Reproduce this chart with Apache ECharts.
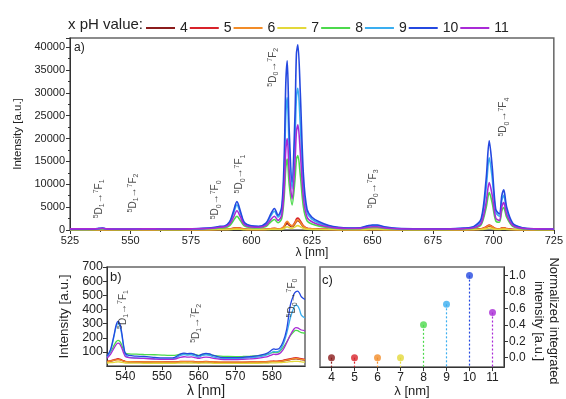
<!DOCTYPE html>
<html>
<head>
<meta charset="utf-8">
<title>Eu emission vs pH</title>
<script src="https://cdn.jsdelivr.net/npm/echarts@6.0.0/dist/echarts.min.js"></script>
<style>
  html, body { margin: 0; padding: 0; background: #fff; }
  #main { width: 566px; height: 399px; }
</style>
</head>
<body>
<div id="main"></div>
<script>
// pH values / series names
var phNames = ['4', '5', '6', '7', '8', '9', '10', '11'];
var colors = ['#8b1c1c', '#d8232a', '#f28c28', '#e3d83a', '#4cd94c', '#3aaef0', '#2448e0', '#a92ad6'];

// panel a) full spectrum, wavelength [nm]
var wlA = [525, 530, 535, 537, 538.5, 540, 545, 550, 555, 560,
    565, 570, 575, 580, 585, 587, 589, 591, 592.5, 594,
    595.5, 597, 600, 603, 606, 608, 609.5, 611, 612.5, 613.5,
    614.2, 614.8, 615.6, 616.8, 618, 618.6, 619.2, 620.2, 621.5, 623,
    625, 628, 632, 636, 640, 645, 648, 650, 652, 655,
    660, 670, 680, 688, 692, 695, 697, 698.3, 699.5, 701,
    702.5, 703.5, 704.3, 705.5, 708, 712, 718, 725];
var ph4A = [50,50,50,58,65, 50,45,45,50,50, 45,45,50,58,80, 105,120,175,300,400, 300,160,95,90,120, 220,280,200,280,640, 1200,1450,1050,720,1350, 1900,2050,1600,720,320, 220,145,95,65,55, 55,80,95,95,70, 50,45,45,55,80, 200,560,880,640,240, 200,360,400,240,95, 55,50,45];
var ph5A = [60,60,60,70,80, 60,55,55,60,60, 55,55,60,70,100, 130,150,220,380,500, 380,200,120,110,150, 280,350,250,350,800, 1500,1800,1300,900,1700, 2400,2600,2000,900,400, 280,180,120,80,70, 70,100,120,120,90, 60,55,55,70,100, 250,700,1100,800,300, 250,450,500,300,120, 70,60,55];
var ph6A = [55,55,55,65,72, 55,50,50,55,55, 50,50,55,65,90, 118,135,200,340,450, 340,180,110,100,135, 250,315,225,320,760, 1600,1900,1350,850,1500, 2050,2200,1700,780,350, 250,160,105,72,62, 62,90,108,108,80, 55,50,50,62,90, 220,620,980,710,270, 220,400,450,270,108, 62,55,50];
var ph7A = [25,25,25,28,32, 25,22,22,25,25, 22,22,25,28,40, 50,60,90,150,200, 150,80,50,45,60, 110,140,100,140,320, 600,720,520,360,680, 880,950,720,340,150, 110,70,48,32,28, 28,40,48,48,36, 25,22,22,28,40, 100,280,440,320,120, 100,180,200,120,48, 28,25,22];
var ph8A = [120,120,130,180,220, 150,130,130,150,150, 130,130,160,220,350, 450,500,950,2000,3000, 2000,900,500,450,750, 1800,2300,1600,2500,7000, 13500,15500,10000,5500,11000, 15500,16300,12000,5000,2000, 1300,850,500,300,250, 270,450,550,550,350, 180,130,130,220,400, 1200,4800,8200,6000,2000, 1700,4200,4900,2800,800, 250,140,120];
var ph9A = [120,120,150,300,400, 220,170,170,220,220, 170,170,220,300,520, 700,800,1600,3500,5500, 3600,1500,800,700,1300, 3100,4100,2800,4300,12000, 25000,29000,18000,9000,20000, 29000,31000,23000,9500,3800, 2400,1500,850,500,400, 450,800,950,950,600, 300,200,200,350,700, 2100,9000,15800,11500,3800, 3000,6500,7600,4300,1300, 450,220,180];
var ph10A = [150,150,200,350,450, 250,200,200,250,250, 200,200,250,350,600, 800,900,1800,4000,6200, 4000,1700,900,800,1500, 3500,4700,3200,5000,15000, 32000,37000,22000,10500,25000, 38500,40500,30000,12000,4500, 2800,1800,1000,600,450, 500,900,1100,1100,700, 350,250,250,400,800, 2500,11000,19500,14000,4500, 3500,7500,8800,5000,1500, 500,250,200];
var ph11A = [250,250,250,300,350, 250,220,220,250,250, 220,220,250,300,450, 600,700,1300,2700,4200, 2800,1200,650,600,1000, 2300,3000,2100,3200,9000, 17500,20000,13000,6800,15000, 21500,23000,17000,7000,2800, 1800,1150,650,400,330, 350,600,700,700,450, 280,230,230,300,500, 1500,6000,10400,7700,2600, 2100,5100,6000,3400,1000, 350,250,230];

// panel b) zoom 535-589 nm
var wlB = [535, 536, 537, 537.5, 538, 538.5, 539, 539.5, 540, 541,
    543, 545, 548, 550, 552, 553.5, 555, 556, 557, 558,
    559, 560, 561, 562, 563, 564, 566, 568, 570, 572,
    574, 576, 578, 579, 580, 580.5, 581, 582, 583, 584,
    585, 586, 586.5, 587, 587.5, 588, 589];
var ph4B = [30,35,42,46,48,46,41,35,31,29, 28,27,27,26,26,26,29,30,29,30, 28,27,28,29,28,27,25,25,25,25, 26,27,28,29,31,32,31,33,36,41, 46,50,52,50,48,45,42];
var ph5B = [33,38,46,50,52,50,45,38,34,32, 31,30,30,29,29,29,33,34,33,34, 32,30,32,33,32,30,28,28,28,28, 29,30,32,33,35,36,35,37,41,47, 53,58,60,58,55,52,48];
var ph6B = [32,36,42,44,45,44,40,35,32,31, 30,30,29,29,28,28,31,32,31,32, 30,29,30,31,30,29,28,28,28,28, 28,29,30,31,33,33,33,34,37,42, 47,52,54,53,50,47,44];
var ph7B = [22,24,27,29,30,29,27,24,22,21, 21,20,20,20,20,20,22,22,22,22, 21,20,21,22,21,20,19,19,19,19, 20,20,21,22,23,23,23,24,26,28, 31,33,34,33,32,30,28];
var ph8B = [70,100,150,172,182,175,150,115,92,86, 84,82,80,78,76,76,85,88,85,86, 82,76,82,85,82,76,70,68,67,68, 70,73,80,86,95,98,96,102,130,170, 215,245,252,250,243,236,232];
var ph9B = [60,110,220,280,300,285,225,140,80,62, 58,56,52,50,50,54,75,82,78,80, 72,62,75,80,76,65,54,52,52,54, 58,63,74,82,98,104,100,108,150,230, 340,415,430,425,400,360,340];
var ph10B = [70,120,230,290,315,300,240,150,90,75, 70,68,62,58,58,62,85,92,88,90, 82,72,85,90,86,75,62,60,60,62, 66,72,85,95,115,122,118,125,170,260, 430,510,525,530,515,490,470];
var ph11B = [55,85,130,152,162,155,130,95,68,60, 56,54,50,48,48,50,62,66,63,65, 60,54,60,64,61,55,48,46,46,48, 51,55,63,69,80,84,82,88,115,165, 220,262,272,270,262,255,250];

// panel c) normalized integrated intensity
var phC = [4, 5, 6, 7, 8, 9, 10, 11];
var normC = [0.0, 0.0, 0.0, 0.0, 0.40, 0.65, 1.0, 0.55];

// tick labels
var ticksBx = [540, 550, 560, 570, 580];
var ticksCx = [4, 5, 6, 7, 8, 9, 10, 11];
var ticksCy = [0, 0.2, 0.4, 0.6, 0.8, 1.0];

// transition annotations [wavelength, intensity]
var annoAText = ['{s|5}D{b|1}→{s|7}F{b|1}', '{s|5}D{b|1}→{s|7}F{b|2}', '{s|5}D{b|0}→{s|7}F{b|0}', '{s|5}D{b|0}→{s|7}F{b|1}', '{s|5}D{b|0}→{s|7}F{b|2}', '{s|5}D{b|0}→{s|7}F{b|3}', '{s|5}D{b|0}→{s|7}F{b|4}'];
var annoAX = [537, 551, 585.2, 595.1, 609, 650.2, 704.3];
var annoAY = [6800, 8100, 6600, 12250, 35600, 9000, 24700];
var annoBText = ['{s|5}D{b|1}→{s|7}F{b|1}', '{s|5}D{b|1}→{s|7}F{b|2}', '{s|5}D{b|0}→{s|7}F{b|0}'];
var annoBX = [539.3, 559.4, 585.4];
var annoBY = [400, 302, 481];

var FONT = '"Liberation Sans", Arial, sans-serif';

function zip(xs, ys) {
    return xs.map(function(x, i) { return [x, ys[i]]; });
}

var seriesA = [ph4A, ph5A, ph6A, ph7A, ph8A, ph9A, ph10A, ph11A];
var seriesB = [ph4B, ph5B, ph6B, ph7B, ph8B, ph9B, ph10B, ph11B];

var series = [];
seriesA.forEach(function(ys, i) {
    series.push({
        name: phNames[i], type: 'line', xAxisIndex: 0, yAxisIndex: 0,
        data: zip(wlA, ys), showSymbol: false, smooth: 0.3,
        lineStyle: { width: 1.6, color: colors[i] }, itemStyle: { color: colors[i] }
    });
});
seriesB.forEach(function(ys, i) {
    series.push({
        name: phNames[i], type: 'line', xAxisIndex: 1, yAxisIndex: 1,
        data: zip(wlB, ys), showSymbol: false, smooth: 0.3,
        lineStyle: { width: 1.3, color: colors[i] }, itemStyle: { color: colors[i] }
    });
});

var richAnno = {
    s: { fontSize: 7, verticalAlign: 'top', lineHeight: 13, fontFamily: FONT, color: '#222' },
    b: { fontSize: 7, verticalAlign: 'bottom', lineHeight: 13, fontFamily: FONT, color: '#222' }
};
function annoSeries(xi, xs, ys, texts, size) {
    return {
        type: 'scatter', xAxisIndex: xi, yAxisIndex: xi, symbolSize: 0, silent: true, z: 10,
        data: xs.map(function(x, i) { return { name: texts[i], value: [x, ys[i]] }; }),
        label: {
            show: true, position: 'inside', rotate: 90, formatter: '{b}',
            fontSize: size, lineHeight: 13, color: '#222', fontFamily: FONT, rich: richAnno
        }
    };
}
series.push(annoSeries(0, annoAX, annoAY, annoAText, 10));
series.push(annoSeries(1, annoBX, annoBY, annoBText, 10));

// panel c stems (dotted drop lines) and points
series.push({
    type: 'custom', xAxisIndex: 2, yAxisIndex: 2, silent: true,
    data: zip(phC, normC),
    renderItem: function(params, api) {
        var p = api.coord([api.value(0), api.value(1)]);
        var bottom = params.coordSys.y + params.coordSys.height;
        return {
            type: 'line',
            shape: { x1: p[0], y1: p[1], x2: p[0], y2: bottom },
            style: { stroke: colors[params.dataIndex], lineWidth: 1.2, lineDash: [2, 2] }
        };
    }
});
series.push({
    name: 'norm', type: 'scatter', xAxisIndex: 2, yAxisIndex: 2, symbolSize: 7, z: 5,
    data: phC.map(function(x, i) {
        return { value: [x, normC[i]], itemStyle: { color: colors[i] } };
    })
});

var axisCommon = {
    axisLine: { onZero: false, lineStyle: { color: '#333', width: 1 } },
    axisTick: { lineStyle: { color: '#333' }, length: 4 },
    splitLine: { show: false },
    axisLabel: { color: '#222', fontFamily: FONT },
    nameTextStyle: { color: '#222', fontFamily: FONT }
};
function ax(o) {
    var r = JSON.parse(JSON.stringify(axisCommon));
    for (var k in o) {
        if (typeof o[k] === 'object' && !Array.isArray(o[k]) && r[k]) {
            for (var kk in o[k]) r[k][kk] = o[k][kk];
        } else {
            r[k] = o[k];
        }
    }
    return r;
}

var gridStyle = { show: true, borderColor: '#666', borderWidth: 1.5, backgroundColor: 'transparent' };

var option = {
    backgroundColor: '#fff',
    animation: false,
    textStyle: { fontFamily: FONT },
    legend: {
        data: phNames, left: 141, top: 16, icon: 'rect',
        itemWidth: 29, itemHeight: 2, itemGap: 2,
        textStyle: { fontSize: 14, color: '#222', fontFamily: FONT }
    },
    graphic: [
        { type: 'text', left: 68, top: 17, style: { text: 'x pH value:', font: '15px ' + FONT, fill: '#222' } },
        { type: 'text', left: 74, top: 42, style: { text: 'a)', font: '12px ' + FONT, fill: '#222' } },
        { type: 'text', left: 110, top: 271, style: { text: 'b)', font: '13px ' + FONT, fill: '#222' } },
        { type: 'text', left: 322, top: 274, style: { text: 'c)', font: '13px ' + FONT, fill: '#222' } },
        // right-hand axis title of panel c, reads top to bottom
        { type: 'text', x: 546, y: 321, rotation: -Math.PI / 2,
          style: { text: 'Normalized integrated\nintensity [a.u.]', font: '13px ' + FONT,
                   lineHeight: 15, align: 'center', verticalAlign: 'middle', fill: '#222' } }
    ],
    grid: [
        Object.assign({ left: 70, right: 8, top: 38, bottom: 169 }, gridStyle),
        Object.assign({ left: 107, right: 261, top: 267, bottom: 27 }, gridStyle),
        Object.assign({ left: 320, right: 62, top: 267, bottom: 26 }, gridStyle)
    ],
    xAxis: [
        ax({ type: 'value', gridIndex: 0, min: 525, max: 725, interval: 25,
            name: 'λ [nm]', nameLocation: 'middle', nameGap: 13,
            nameTextStyle: { fontSize: 12 }, axisLabel: { fontSize: 11, margin: 5 },
            minorTick: { show: true, splitNumber: 2, length: 2, lineStyle: { color: '#333' } } }),
        ax({ type: 'value', gridIndex: 1, min: 535, max: 589,
            name: 'λ [nm]', nameLocation: 'middle', nameGap: 11,
            nameTextStyle: { fontSize: 14 },
            axisLabel: { fontSize: 12, margin: 5, customValues: ticksBx },
            axisTick: { customValues: ticksBx } }),
        ax({ type: 'value', gridIndex: 2, min: 3.5, max: 11.5,
            name: 'λ [nm]', nameLocation: 'middle', nameGap: 13,
            nameTextStyle: { fontSize: 13 },
            axisLabel: { fontSize: 12, margin: 5, customValues: ticksCx },
            axisTick: { customValues: ticksCx } })
    ],
    yAxis: [
        ax({ type: 'value', gridIndex: 0, min: 0, max: 42000, interval: 5000,
            name: 'Intensity [a.u.]', nameLocation: 'middle', nameGap: 42,
            nameTextStyle: { fontSize: 11.5 },
            axisLabel: { fontSize: 11, margin: 5, showMaxLabel: false,
                formatter: function(v) { return String(v); } },
            minorTick: { show: true, splitNumber: 2, length: 2, lineStyle: { color: '#333' } } }),
        ax({ type: 'value', gridIndex: 1, min: 0, max: 700, interval: 100,
            name: 'Intensity [a.u.]', nameLocation: 'middle', nameGap: 36,
            nameTextStyle: { fontSize: 13.5 },
            axisLabel: { fontSize: 12.5, margin: 4, showMinLabel: false } }),
        ax({ type: 'value', gridIndex: 2, min: -0.115, max: 1.105, position: 'right',
            axisLabel: { fontSize: 12, margin: 5, customValues: ticksCy,
                formatter: function(v) { return v.toFixed(1); } },
            axisTick: { customValues: ticksCy } })
    ],
    series: series
};

var chart = echarts.init(document.getElementById('main'), null, { renderer: 'canvas' });
chart.setOption(option);
</script>
</body>
</html>
